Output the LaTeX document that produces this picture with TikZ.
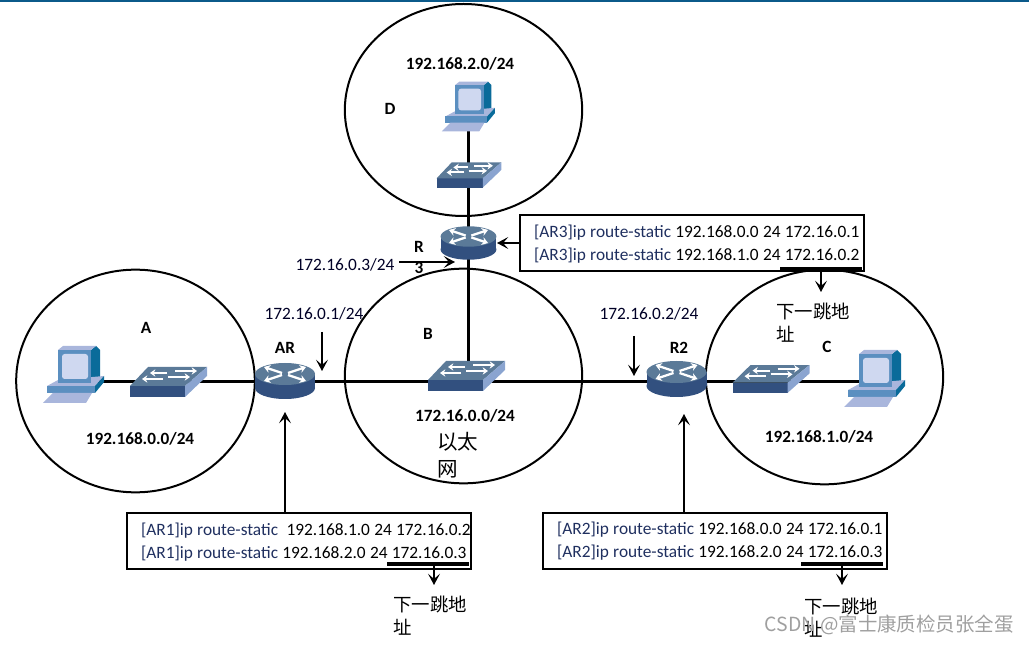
\documentclass[tikz,border=0pt]{standalone}
\usepackage{fontspec}
\setmainfont[WordSpace=0.6]{Carlito}
\newfontfamily\cjk{Noto Sans CJK SC}
\usetikzlibrary{arrows.meta,shapes.geometric}
\definecolor{barblue}{HTML}{0B5A8A}
\definecolor{iconnavy}{HTML}{32507F}
\definecolor{iconslate}{HTML}{5B7A98}
\definecolor{iconside}{HTML}{8AA4D0}
\definecolor{pcteal}{HTML}{0A6B9A}
\definecolor{pcblue}{HTML}{5B8FC0}
\definecolor{pclilac}{HTML}{A9B6DC}
\definecolor{pcscreen}{HTML}{CFD8F0}
\definecolor{cmdnavy}{HTML}{1F2F5F}
\newcommand{\cmdline}[2]{\raisebox{-1.2pt}[9pt][3pt]{\spaceskip=3.2pt\textcolor{cmdnavy}{#1} #2}}
\tikzset{
  link/.style={line width=2.25pt},
  net/.style={draw, ellipse, line width=1.5pt, inner sep=0pt},
  cfgbox/.style={draw, line width=1.5pt, inner xsep=10.5pt, inner ysep=3pt, text width=237pt, align=left, minimum height=42pt, font=\fontsize{13}{17.25}\selectfont},
  thickrule/.style={line width=3pt},
  arr/.style={line width=1.4pt, -{Stealth[length=8.5pt,width=9pt,inset=4pt]}},
  bold/.style={font=\fontsize{12.9}{15}\selectfont\bfseries},
  addr/.style={font=\fontsize{13}{15}\selectfont, text=black!85!blue},
  hop/.style={font=\fontsize{13.8}{17}\selectfont\cjk, align=left, inner sep=0pt},
  pics/router/.style={code={
    \fill[iconnavy] (-30,-7) rectangle (30,7);
    \fill[iconnavy] (0,7) ellipse [x radius=30, y radius=11];
    \fill[iconslate] (0,-7) ellipse [x radius=30, y radius=11];
    \foreach \sx/\sy in {1/1,1/-1,-1/1,-1/-1}
      \draw[white, line width=1.7pt, -{Stealth[length=4.5pt,width=6pt]}] (\sx*3,{-7+\sy*1}) -- (\sx*21,{-7+\sy*7});
  }},
  pics/switch/.style={code={
    \fill[iconnavy] (-38,4) rectangle (17,15);
    \fill[iconslate] (-38,4) -- (-20,-15) -- (39,-15) -- (17,4) -- cycle;
    \fill[iconside] (17,4) -- (39,-15) -- (39,-6) -- (17,15) -- cycle;
    \foreach \xa/\xb/\ya in {-1/-18/-9,7/29/-11,-5/-26/-3,0/22/-5}
      \draw[white, line width=1.5pt, -{Stealth[length=4pt,width=5.5pt]}] (\xa,\ya) -- (\xb,\ya);
  }},
  pics/pc/.style={code={
    \fill[pcteal] (18,-32) -- (23,-36) -- (27,-32) -- (27,-4) -- (18,1) -- cycle;
    \fill[pclilac] (-15,-32) -- (-10,-36) -- (23,-36) -- (18,-32) -- cycle;
    \fill[pclilac] (-26,4) -- (-15,-2) -- (31,-6) -- (22,4) -- cycle;
    \fill[pcblue] (-15,-32) rectangle (18,1);
    \fill[pcscreen, rounded corners=2pt] (-11,-28) rectangle (15,-3);
    \fill[pcteal] (22,4) -- (31,-6) -- (31,0) -- (22,11) -- cycle;
    \fill[pcblue] (-26,4) rectangle (22,11);
    \fill[pclilac] (-30,21) -- (-20,11) -- (19,11) -- (13,21) -- cycle;
  }}
}
\begin{document}
\begin{tikzpicture}[x=0.75pt, y=-0.75pt]
  \useasboundingbox (0,0) rectangle (1029,645);
  \fill[barblue] (0,0) rectangle (1029,2);

  \node[net, minimum width=179pt, minimum height=167pt] (netA) at (135.5,381) {};
  \node[net, minimum width=178pt, minimum height=161pt] (netB) at (463.5,376) {};
  \node[net, minimum width=178pt, minimum height=161pt] (netC) at (824.5,377) {};
  \node[net, minimum width=178pt, minimum height=159pt] (netD) at (463.5,110) {};

  \coordinate (pcA) at (73,382);
  \coordinate (swA) at (168,382);
  \coordinate (rAR) at (285,381);
  \coordinate (swB) at (466,376);
  \coordinate (rR2) at (676.5,379);
  \coordinate (swC) at (770.5,379);
  \coordinate (pcC) at (874,386);
  \coordinate (pcD) at (468,113);
  \coordinate (swD) at (468.5,175);
  \coordinate (rR3) at (468.5,243);

  \draw[link] (pcA) -- (pcC |- pcA);
  \draw[link] (pcD) -- (pcD |- pcA);

  \pic at (pcA) {pc};
  \pic at (pcC) {pc};
  \pic[scale=.87] at (pcD) {pc};
  \pic at (swA) {switch};
  \pic at (swB) {switch};
  \pic[yscale=.93] at (swC) {switch};
  \pic[scale=.84] at (swD) {switch};
  \pic at (rAR) {router};
  \pic at (rR2) {router};
  \pic[scale=.93] at (rR3) {router};

  \node[bold] (lblA) at (146,328) {A};
  \node[bold] (lblB) at (428,334) {B};
  \node[bold] (lblC) at (827,347) {C};
  \node[bold] (lblD) at (390,109) {D};
  \node[bold] (lblAR) at (285,348) {AR};
  \node[bold] (lblR2) at (679,348) {R2};
  \node[bold] (lblR) at (419,247) {R};
  \node[bold] (lblRb) at (419,268) {3};
  \node[bold] (subD) at (460,64) {192.168.2.0/24};
  \node[bold] (subA) at (140,439) {192.168.0.0/24};
  \node[bold] (subB) at (465,416) {172.16.0.0/24};
  \node[bold] (subC) at (819,437) {192.168.1.0/24};
  \node[addr] (ipAR) at (314,314) {172.16.0.1/24};
  \node[addr] (ipR2) at (649,314) {172.16.0.2/24};
  \node[addr] (ipR3) at (345,265) {172.16.0.3/24};

  \node[font=\fontsize{15.4}{20}\selectfont\cjk, align=left, inner sep=0pt, anchor=north west] (ether) at (437,432) {以太\\网};

  \node[cfgbox] (boxR3) at (692,243.5) {\cmdline{[AR3]ip route-static}{192.168.0.0 24 172.16.0.1}\\\cmdline{[AR3]ip route-static}{192.168.1.0 24 172.16.0.2}};
  \node[cfgbox] (boxAR) at (299,541) {\cmdline{[AR1]ip route-static}{\ 192.168.1.0 24 172.16.0.2}\\\cmdline{[AR1]ip route-static}{192.168.2.0 24 172.16.0.3}};
  \node[cfgbox] (boxR2) at (715,540.5) {\cmdline{[AR2]ip route-static}{192.168.0.0 24 172.16.0.1}\\\cmdline{[AR2]ip route-static}{192.168.2.0 24 172.16.0.3}};

  \coordinate (ruleR3a) at (780,269);
  \coordinate (ruleR3b) at (862,269);
  \coordinate (ruleARa) at (387,564);
  \coordinate (ruleARb) at (469,564);
  \coordinate (ruleR2a) at (801,564);
  \coordinate (ruleR2b) at (883,564);
  \foreach \r in {R3,AR,R2} \draw[thickrule] (rule\r a) -- (rule\r b);

  \coordinate (tipR3) at (821,292);
  \coordinate (tipAR) at (434,585);
  \coordinate (tipR2) at (842,585);
  \draw[arr] (tipR3 |- ruleR3a) -- (tipR3);
  \draw[arr] (tipAR |- ruleARa) -- (tipAR);
  \draw[arr] (tipR2 |- ruleR2a) -- (tipR2);

  \node[hop, anchor=north west] (hopR3) at (776,303) {下一跳地\\址};
  \node[hop, anchor=north west] (hopAR) at (393,596) {下一跳地\\址};
  \node[hop, anchor=north west] (hopR2) at (804,598) {下一跳地\\址};

  \coordinate (upAR) at (285,412);
  \coordinate (upR2) at (684,414);
  \draw[arr] (boxAR.north -| upAR) -- (upAR);
  \draw[arr] (boxR2.north -| upR2) -- (upR2);
  \draw[arr] (boxR3.west |- rR3) -- (rR3 -| 497,0);

  \coordinate (tickAR) at (322,332);
  \coordinate (tickR2) at (634,336);
  \coordinate (tickR3) at (399,262);
  \draw[arr] (tickAR) -- +(0,39);
  \draw[arr] (tickR2) -- +(0,40);
  \draw[arr] (tickR3) -- +(56,0);

  \node[font=\fontsize{14.6}{18}\selectfont\cjk, text=gray!75, anchor=east, inner sep=0pt] (mark) at (1014,625) {CSDN @富士康质检员张全蛋};
\end{tikzpicture}
\end{document}
